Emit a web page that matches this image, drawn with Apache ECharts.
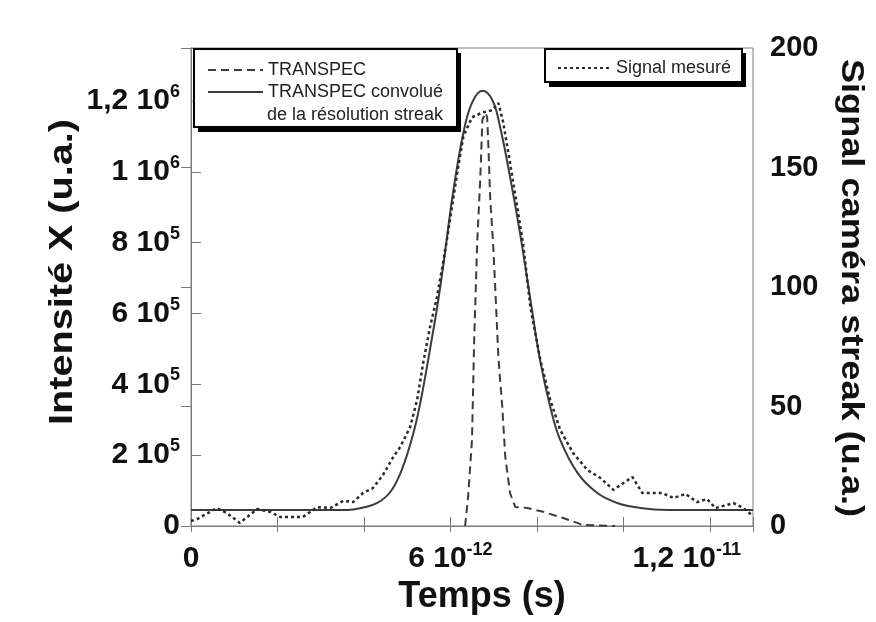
<!DOCTYPE html>
<html><head><meta charset="utf-8">
<script src="https://cdn.jsdelivr.net/npm/echarts@6/dist/echarts.min.js"></script>
<style>html,body{margin:0;padding:0;background:#fff}#c{width:876px;height:622px}</style>
</head><body><div id="c"></div>
<script>
// ---- data (time in units of 1e-12 s) ----
const transpecTime = [6.34,6.41,6.50,6.55,6.62,6.69,6.74,6.81,6.85,6.88,6.92,6.99,7.04,7.11,7.20,7.27,7.38,7.50,7.78,8.15,8.61,9.07,9.81];
const transpecVal = [0,82000,243000,525000,800000,977000,1147000,1167000,1155000,1071000,929000,794000,667000,477000,336000,195000,93000,54000,51000,40000,22600,2800,0];

const convTime = [0,3.61,3.98,4.31,4.61,4.84,5.07,5.23,5.37,5.53,5.69,5.83,6.06,6.30,6.50,6.74,6.97,7.15,7.38,7.62,7.85,8.08,8.31,8.54,8.94,9.40,9.86,10.39,11.02,13.0];
const convVal = [45200,45200,52000,65000,96000,148000,230000,305000,390000,500000,615000,730000,940000,1110000,1195000,1229000,1203000,1127000,986000,820000,640000,465000,336000,243000,150000,93000,65000,51000,45200,45200];

const signalTime = [0,0.14,0.60,0.83,1.13,1.53,1.83,2.06,2.36,2.59,2.92,3.22,3.52,3.75,3.98,4.21,4.44,4.68,4.84,5.07,5.23,5.37,5.53,5.69,5.83,5.93,6.16,6.30,6.50,6.74,6.97,7.11,7.22,7.38,7.55,7.69,7.85,8.08,8.31,8.54,8.84,9.17,9.47,9.77,10.21,10.44,10.90,11.16,11.44,11.71,11.94,12.13,12.55,12.78,13.0];
const signalVal = [2.1,2.9,7.5,5.4,1.3,7.1,5.9,3.8,3.8,3.8,7.9,7.5,10.5,10.0,13.8,15.9,21.3,28.9,33.1,41.4,52.7,68.2,83.3,95.8,110,121,148,163,171,173,174,177,169,152,133,117,91.6,69.5,52.7,40.2,30.5,23.4,20.1,15.1,20.5,13.8,13.8,11.7,13.4,10.0,11.3,7.5,9.6,7.5,4.2];

// ---- tick labels ----
const xTickValues = [0, 6, 12];
const xTickBase = ['0', '6 10', '1,2 10'];
const xTickExp = ['', '-12', '-11'];
const yLeftTickValues = [0, 200000, 400000, 600000, 800000, 1000000, 1200000];
const yLeftTickBase = ['0', '2 10', '4 10', '6 10', '8 10', '1 10', '1,2 10'];
const yLeftTickExp = ['', '5', '5', '5', '5', '6', '6'];

const seriesNames = ['TRANSPEC', 'TRANSPEC convolué', 'Signal mesuré'];
const legendExtraLine = 'de la résolution streak';
const xTitle = 'Temps (s)';
const yLeftTitle = 'Intensité X (u.a.)';
const yRightTitle = 'Signal caméra streak (u.a.)';

const FF = "'Liberation Sans', Arial, sans-serif";
const zip = (a, b) => a.map((v, i) => [v, b[i]]);

const rich = {
  m: {fontSize: 30, fontWeight: 'bold', fontFamily: FF, color: '#111', lineHeight: 36},
  s: {fontSize: 18, fontWeight: 'bold', fontFamily: FF, color: '#111', lineHeight: 18, verticalAlign: 'top'},
  pad: {width: 46}
};

const chart = echarts.init(document.getElementById('c'), null, {renderer: 'canvas'});
chart.setOption({
  backgroundColor: '#ffffff',
  animation: false,
  grid: {left: 191, top: 48, width: 562, height: 478, show: true, borderColor: '#7a7a7a', borderWidth: 1, backgroundColor: '#fff'},
  xAxis: [{
    type: 'value', min: 0, max: 13, interval: 2, position: 'bottom',
    axisLine: {show: true, lineStyle: {color: '#7a7a7a', width: 1}},
    axisTick: {show: true, inside: true, length: 9, lineStyle: {color: '#7a7a7a'}},
    splitLine: {show: false},
    axisLabel: {
      margin: 15, rich: rich,
      formatter: function (v) {
        const i = xTickValues.indexOf(v);
        if (i < 0) return '';
        let s = '{m|' + xTickBase[i] + '}';
        if (xTickExp[i]) s += '{s|' + xTickExp[i] + '}';
        if (i === xTickValues.length - 1) s += '{pad|}';
        return s;
      }
    }
  }, {
    type: 'value', min: 0, max: 13, interval: 2, position: 'top',
    axisLine: {show: true, lineStyle: {color: '#7a7a7a', width: 1}},
    axisTick: {show: true, inside: true, length: 6, lineStyle: {color: '#7a7a7a'}},
    splitLine: {show: false}, axisLabel: {show: false}
  }],
  yAxis: [{
    type: 'value', min: 0, max: 1350000, interval: 200000, position: 'left',
    axisLine: {show: true, lineStyle: {color: '#7a7a7a', width: 1}},
    axisTick: {show: true, inside: true, length: 10, lineStyle: {color: '#7a7a7a'}},
    splitLine: {show: false},
    axisLabel: {
      margin: 11, rich: rich,
      formatter: function (v) {
        const i = yLeftTickValues.indexOf(v);
        if (i < 0) return '';
        let s = '{m|' + yLeftTickBase[i] + '}';
        if (yLeftTickExp[i]) s += '{s|' + yLeftTickExp[i] + '}';
        return s;
      }
    }
  }, {
    type: 'value', min: 0, max: 200, interval: 50, position: 'right',
    axisLine: {show: true, lineStyle: {color: '#7a7a7a', width: 1}},
    axisTick: {show: true, inside: true, length: 10, lineStyle: {color: '#7a7a7a'}},
    splitLine: {show: false},
    axisLabel: {margin: 17, fontSize: 29, fontWeight: 'bold', fontFamily: FF, color: '#111', padding: [0, 0, 7, 0]}
  }],
  legend: [{
    data: [seriesNames[0], seriesNames[1]], orient: 'vertical', left: 194, top: 49,
    padding: [10, 16, 25, 13], itemWidth: 55, itemHeight: 10, itemGap: 0, selectedMode: false, z: 60,
    itemStyle: {opacity: 0},
    textStyle: {fontSize: 18, lineHeight: 22, color: '#222', fontFamily: FF}
  }, {
    data: [seriesNames[2]], orient: 'vertical', left: 545, top: 49,
    padding: [8, 10, 8, 12], itemWidth: 53, itemHeight: 10, itemGap: 0, selectedMode: false, z: 60,
    itemStyle: {opacity: 0},
    textStyle: {fontSize: 18, lineHeight: 22, color: '#222', fontFamily: FF}
  }],
  graphic: [
    {type: 'rect', z: 50, shape: {x: 198, y: 53, width: 263, height: 79}, style: {fill: '#000'}},
    {type: 'rect', z: 51, shape: {x: 194, y: 49, width: 263, height: 78}, style: {fill: '#fff', stroke: '#000', lineWidth: 2}},
    {type: 'text', z: 61, x: 267, y: 115, style: {text: legendExtraLine, fontSize: 18, fontFamily: FF, fill: '#222', align: 'left', verticalAlign: 'middle'}},
    {type: 'rect', z: 50, shape: {x: 549, y: 53, width: 197, height: 34}, style: {fill: '#000'}},
    {type: 'rect', z: 51, shape: {x: 545, y: 49, width: 197, height: 33}, style: {fill: '#fff', stroke: '#000', lineWidth: 2}},
    {type: 'text', z: 61, x: 482, y: 597, style: {text: xTitle, fontSize: 36, fontWeight: 'bold', fontFamily: FF, fill: '#111', align: 'center', verticalAlign: 'middle'}},
    {type: 'text', z: 61, x: 63, y: 272, rotation: Math.PI / 2, scaleX: 1.2, style: {text: yLeftTitle, fontSize: 33, fontWeight: 'bold', fontFamily: FF, fill: '#111', align: 'center', verticalAlign: 'middle'}},
    {type: 'text', z: 61, x: 851, y: 288, rotation: -Math.PI / 2, scaleX: 1.13, style: {text: yRightTitle, fontSize: 32, fontWeight: 'bold', fontFamily: FF, fill: '#111', align: 'center', verticalAlign: 'middle'}}
  ],
  series: [{
    name: seriesNames[0], type: 'line', xAxisIndex: 0, yAxisIndex: 0, symbol: 'none',
    data: zip(transpecTime, transpecVal),
    lineStyle: {color: '#3c3c3c', width: 2, type: [8, 5]}, itemStyle: {color: '#3c3c3c'}
  }, {
    name: seriesNames[1], type: 'line', xAxisIndex: 0, yAxisIndex: 0, symbol: 'none', smooth: 0.4,
    data: zip(convTime, convVal),
    lineStyle: {color: '#3c3c3c', width: 2, type: 'solid'}, itemStyle: {color: '#3c3c3c'}
  }, {
    name: seriesNames[2], type: 'line', xAxisIndex: 0, yAxisIndex: 1, symbol: 'none',
    data: zip(signalTime, signalVal),
    lineStyle: {color: '#2a2a2a', width: 2.5, type: [3, 3]}, itemStyle: {color: '#2a2a2a'}
  }]
});
</script></body></html>
